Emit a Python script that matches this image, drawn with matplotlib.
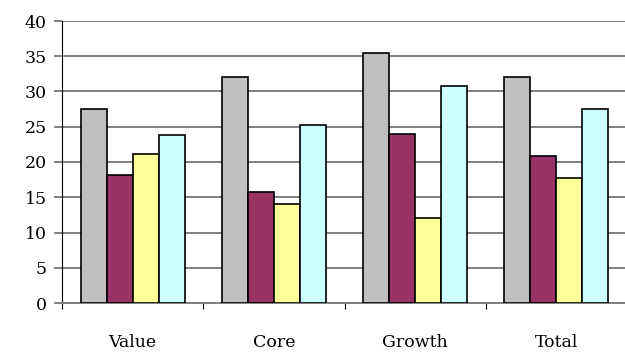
import matplotlib
matplotlib.use("Agg")
import matplotlib.pyplot as plt
import numpy as np

categories = ["Value", "Core", "Growth", "Total"]
series_1 = [27.5, 32.0, 35.4, 32.0]
series_2 = [18.1, 15.8, 24.0, 20.9]
series_3 = [21.2, 14.1, 12.1, 17.8]
series_4 = [23.8, 25.2, 30.8, 27.5]
colors = ["#C0C0C0", "#993366", "#FFFF99", "#CCFFFF"]
y_ticks = [0, 5, 10, 15, 20, 25, 30, 35, 40]

W, H = 625, 353
fig = plt.figure(figsize=(W / 100, H / 100), dpi=100)
ax = fig.add_axes([62 / W, (H - 303) / H, (627 - 62) / W, (303 - 21) / H])

plt.rcParams["font.family"] = "DejaVu Serif"
font = dict(family="DejaVu Serif", size=12.5)

centers = np.arange(len(categories)) + 0.5
bw = 0.184
all_series = [series_1, series_2, series_3, series_4]
for i, (vals, c) in enumerate(zip(all_series, colors)):
    ax.bar(centers + (i - 1.5) * bw, vals, width=bw, color=c,
           edgecolor="black", linewidth=1.2, zorder=3)

ax.set_xlim(0, len(categories))
ax.set_ylim(0, 40)
ax.set_yticks(y_ticks)
ax.set_yticklabels([str(t) for t in y_ticks], **font)
ax.yaxis.grid(True, color="#808080", linewidth=1.4, zorder=0)
ax.tick_params(axis="y", direction="out", length=6, width=1.4, color="#808080", pad=5)

# category labels at group centres, boundary ticks in between
ax.set_xticks(np.arange(len(categories) + 1))
ax.set_xticklabels([""] * (len(categories) + 1))
ax.tick_params(axis="x", direction="out", length=4, width=0.8, color="black")
for cx, name in zip(centers, categories):
    ax.text(cx, -5.6, name, ha="center", va="center", **font)

for side in ("top", "right"):
    ax.spines[side].set_visible(False)
ax.spines["left"].set_color("black")
ax.spines["left"].set_linewidth(0.8)
ax.spines["bottom"].set_color("#808080")
ax.spines["bottom"].set_linewidth(1.4)

fig.savefig("out.png", dpi=100)
